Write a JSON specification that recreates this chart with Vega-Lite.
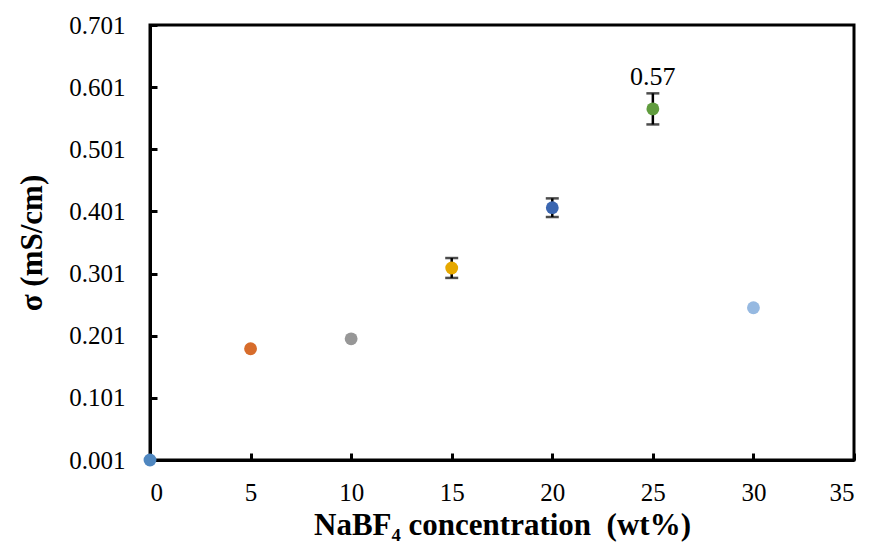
{
  "$schema": "https://vega.github.io/schema/vega-lite/v6.json",
  "width": 704,
  "height": 435,
  "autosize": {"type": "none"},
  "padding": {"left": 150, "top": 25, "right": 16, "bottom": 86},
  "background": "white",
  "data": {
    "values": [
      {"x": 0, "y": 0.001, "err": null, "label": null},
      {"x": 5, "y": 0.180, "err": null, "label": null},
      {"x": 10, "y": 0.196, "err": null, "label": null},
      {"x": 15, "y": 0.310, "err": 0.016, "label": null},
      {"x": 20, "y": 0.407, "err": 0.015, "label": null},
      {"x": 25, "y": 0.566, "err": 0.025, "label": "0.57"},
      {"x": 30, "y": 0.246, "err": null, "label": null}
    ]
  },
  "encoding": {
    "x": {
      "field": "x", "type": "quantitative",
      "scale": {"domain": [0, 35], "nice": false, "zero": false},
      "axis": {"values": [0, 5, 10, 15, 20, 25, 30, 35], "title": "NaBF₄ concentration\u00a0\u00a0(wt%)", "labelPadding": 27, "titlePadding": 5}
    },
    "y": {
      "field": "y", "type": "quantitative",
      "scale": {"domain": [0.001, 0.701], "nice": false, "zero": false},
      "axis": {"values": [0.001, 0.101, 0.201, 0.301, 0.401, 0.501, 0.601, 0.701], "format": ".3f", "title": "σ (mS/cm)", "labelPadding": 32, "titlePadding": 20}
    }
  },
  "layer": [
    {
      "transform": [{"filter": "datum.err != null"}],
      "mark": {"type": "errorbar", "color": "black", "ticks": {"size": 13, "thickness": 2.5, "color": "black"}, "rule": {"strokeWidth": 2.5, "color": "black"}},
      "encoding": {
        "yError": {"field": "err"}
      }
    },
    {
      "mark": {"type": "circle", "size": 165, "opacity": 1},
      "encoding": {
        "color": {
          "field": "x", "type": "nominal", "legend": null,
          "scale": {"domain": [0, 5, 10, 15, 20, 25, 30], "range": ["#4f87c0", "#d76c2b", "#979797", "#e6a800", "#3b66b0", "#609c3e", "#96b9e1"]}
        }
      }
    },
    {
      "transform": [{"filter": "datum.label != null"}],
      "mark": {"type": "text", "font": "Liberation Serif", "fontSize": 26, "color": "black", "dy": -24, "baseline": "alphabetic"},
      "encoding": {
        "text": {"field": "label"}
      }
    }
  ],
  "config": {
    "view": {"stroke": "black", "strokeWidth": 3},
    "axis": {
      "grid": false,
      "domainColor": "black", "domainWidth": 3,
      "tickColor": "black", "tickWidth": 3, "tickSize": -7,
      "labelFont": "Liberation Serif", "labelFontSize": 25, "labelColor": "black",
      "titleFont": "Liberation Serif", "titleFontSize": 31, "titleFontWeight": "bold", "titleColor": "black"
    }
  }
}
